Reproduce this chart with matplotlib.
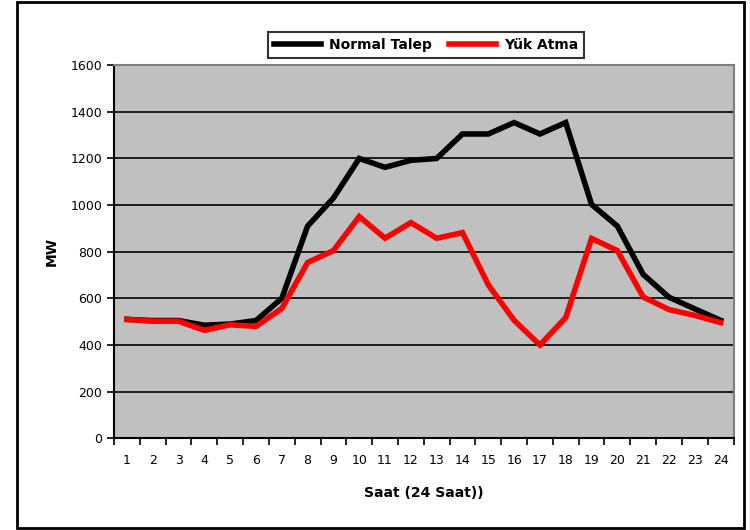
import matplotlib.pyplot as plt
from matplotlib.patches import Rectangle

# === DADOS ===
saat = list(range(1, 25))
normal_talep = [510, 505, 505, 485, 490, 505, 600, 910, 1030, 1200, 1162, 1192,
                1200, 1305, 1305, 1354, 1305, 1354, 1003, 910, 703, 605, 555, 506]
yuk_atma = [510, 502, 502, 463, 487, 480, 557, 754, 805, 951, 858, 925,
            858, 882, 658, 506, 400, 518, 857, 805, 606, 552, 527, 496]
y_ticks = [0, 200, 400, 600, 800, 1000, 1200, 1400, 1600]

plt.rcParams['font.family'] = ['DejaVu Sans']

fig = plt.figure(figsize=(7.5, 5.3), dpi=100)
ax = fig.add_axes([0.152, 0.173, 0.826, 0.704])

# çerçeve
fig.patches.append(Rectangle((17 / 750, 2 / 530), 727 / 750, 526 / 530,
                             transform=fig.transFigure, fill=False,
                             edgecolor='black', linewidth=2))

ax.set_facecolor('#c0c0c0')
ax.plot(saat, normal_talep, color='black', linewidth=4, label='Normal Talep',
        solid_joinstyle='miter', zorder=3)
ax.plot(saat, yuk_atma, color='#ff0000', linewidth=4, label='Yük Atma',
        solid_joinstyle='miter', zorder=4)

ax.set_xlim(0.5, 24.5)
ax.set_ylim(0, 1600)
ax.set_yticks(y_ticks)
ax.set_yticklabels([str(v) for v in y_ticks], fontsize=9)
ax.yaxis.grid(True, color='black', linewidth=1.2)
ax.set_axisbelow(True)

# kategori ekseni: etiketler ortada, tikler sınırlarda
ax.set_xticks([x + 0.5 for x in [0] + saat])
ax.set_xticklabels([])
ax.set_xticks(saat, minor=True)
ax.set_xticklabels([str(s) for s in saat], minor=True, fontsize=9)
ax.tick_params(axis='x', which='minor', length=0, pad=11)
ax.tick_params(axis='x', which='major', length=5, width=1.2, direction='out')
ax.tick_params(axis='y', length=5, width=1.2, direction='out')

for s in ['left', 'bottom']:
    ax.spines[s].set_color('black')
    ax.spines[s].set_linewidth(1.5)
for s in ['top', 'right']:
    ax.spines[s].set_color('#808080')
    ax.spines[s].set_linewidth(1.5)

ax.set_xlabel('Saat (24 Saat))', fontsize=10, fontweight='bold', labelpad=14)
ax.set_ylabel('MW', fontsize=10, fontweight='bold', labelpad=8)

leg = fig.legend(loc='center', bbox_to_anchor=(0.568, 0.915), ncol=2,
                 frameon=True, fancybox=False, edgecolor='black',
                 prop={'weight': 'bold', 'size': 10}, handlelength=3.4,
                 columnspacing=1.2, borderpad=0.4, handletextpad=0.6)
leg.get_frame().set_linewidth(1.5)

fig.savefig('out.png', dpi=100)
